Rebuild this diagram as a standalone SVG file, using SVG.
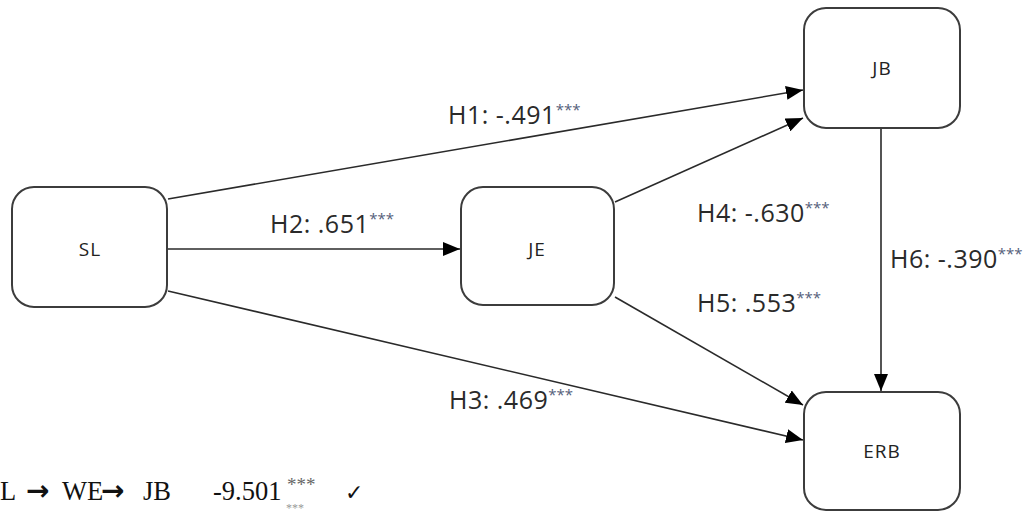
<svg xmlns="http://www.w3.org/2000/svg" width="1035" height="513" viewBox="0 0 1035 513">
<style>
.box{fill:#fff;stroke:#3c3c3c;stroke-width:2}
.node{font-family:"Open Sans","Noto Sans",sans-serif;font-size:19px;letter-spacing:1px;fill:#222;text-anchor:middle}
.lbl{font-family:"Open Sans","Noto Sans",sans-serif;font-size:25px;letter-spacing:0.5px;fill:#2a2a2a}
.sup{font-size:15px;fill:#55607a;letter-spacing:0}
.edge{stroke:#2a2a2a;stroke-width:1.6;fill:none;marker-end:url(#ah)}
.foot{font-family:"Liberation Serif","Times New Roman",serif;font-size:26.5px;fill:#111}
.arr{font-family:"DejaVu Sans",sans-serif;font-weight:bold;font-size:28px;fill:#111}
.fsup{font-family:"Liberation Serif","Times New Roman",serif;font-size:19px;fill:#666}
.tiny{font-family:"Liberation Serif","Times New Roman",serif;font-size:12px;fill:#999}
</style>
<defs>
<marker id="ah" markerUnits="userSpaceOnUse" markerWidth="18" markerHeight="14" viewBox="0 0 18 14" refX="17" refY="7" orient="auto">
<path d="M0,0 L17,7 L0,14 Z" fill="#000"/>
</marker>
</defs>
<g id="connectors">
<line class="edge" x1="168" y1="199" x2="803" y2="90"/>
<line class="edge" x1="168" y1="249" x2="460" y2="249"/>
<line class="edge" x1="168" y1="291" x2="803" y2="440"/>
<line class="edge" x1="615" y1="202" x2="803" y2="118"/>
<line class="edge" x1="615" y1="297" x2="803" y2="405"/>
<line class="edge" x1="881" y1="129" x2="881" y2="391"/>
</g>
<g id="SL"><rect class="box" x="12" y="187" width="155" height="120" rx="22"/><text class="node" x="90" y="256">SL</text></g>
<g id="JE"><rect class="box" x="461" y="187" width="153" height="118" rx="22"/><text class="node" x="537" y="256">JE</text></g>
<g id="JB"><rect class="box" x="804" y="8" width="156" height="120" rx="22"/><text class="node" x="882" y="75">JB</text></g>
<g id="ERB"><rect class="box" x="804" y="392" width="156" height="118" rx="22"/><text class="node" x="882" y="458">ERB</text></g>
<g id="labels">
<text class="lbl" x="448" y="124">H1: -.491<tspan class="sup" dy="-9">***</tspan></text>
<text class="lbl" x="270" y="233">H2: .651<tspan class="sup" dy="-9">***</tspan></text>
<text class="lbl" x="449" y="409">H3: .469<tspan class="sup" dy="-9">***</tspan></text>
<text class="lbl" x="697" y="222">H4: -.630<tspan class="sup" dy="-9">***</tspan></text>
<text class="lbl" x="697" y="312">H5: .553<tspan class="sup" dy="-9">***</tspan></text>
<text class="lbl" x="890" y="268">H6: -.390<tspan class="sup" dy="-9">***</tspan></text>
</g>
<g id="footer">
<text class="foot" x="0" y="500">L</text>
<text class="arr" x="26" y="500">→</text>
<text class="foot" x="62" y="500">WE</text>
<text class="arr" x="101" y="500">→</text>
<text class="foot" x="143" y="500">JB</text>
<text class="foot" x="213" y="500">-9.501</text>
<text class="fsup" x="287" y="491">***</text>
<text class="foot" x="345" y="500" style="font-family:'DejaVu Sans',sans-serif;font-size:22px">✓</text>
<text class="tiny" x="286" y="512">***</text>
</g>
</svg>
